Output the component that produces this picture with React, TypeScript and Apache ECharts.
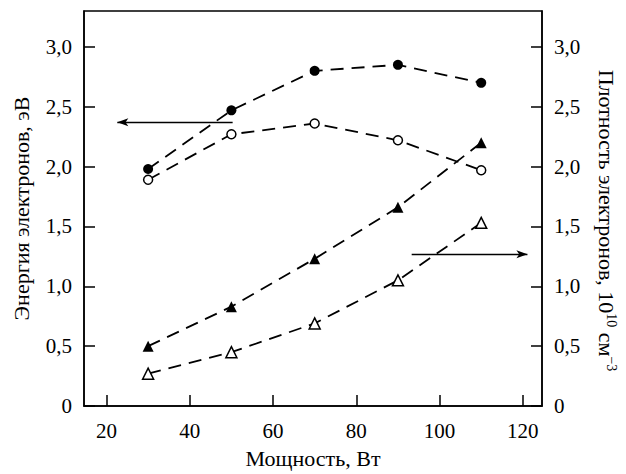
import React, { useEffect, useRef } from "react";
import * as echarts from "echarts";

const power = [30, 50, 70, 90, 110];
const energyFilled = [1.98, 2.47, 2.8, 2.85, 2.7];
const energyOpen = [1.89, 2.27, 2.36, 2.22, 1.97];
const densityFilled = [0.5, 0.83, 1.23, 1.66, 2.2];
const densityOpen = [0.27, 0.45, 0.69, 1.05, 1.53];
const xTicks = [20, 40, 60, 80, 100, 120];
const yTicks = [0, 0.5, 1.0, 1.5, 2.0, 2.5, 3.0];
const energyArrow = [
  [50.3, 2.37],
  [22.6, 2.37],
];
const densityArrow = [
  [93.3, 1.267],
  [121.1, 1.267],
];

const FONT = "Liberation Serif";
const BLACK = "#000";
const TICK_FS = 21;

const fmt = (v: number) => (v === 0 ? "0" : v.toFixed(1).replace(".", ","));

export default function App() {
  const ref = useRef<HTMLDivElement>(null);
  useEffect(() => {
    document.body.style.margin = "0";
    if (!ref.current) return;
    const chart = echarts.init(ref.current, null, { renderer: "svg" });
    const pts = (ys: number[]) => power.map((x, i) => [x, ys[i]]);
    const lineStyle = { color: BLACK, width: 1.8, type: [13, 8] as any };
    const yAxisCommon = (pos: "left" | "right") => ({
      type: "value" as const,
      position: pos,
      min: 0,
      max: 3.3,
      splitLine: { show: false },
      axisLine: { show: true, lineStyle: { color: BLACK, width: 1.5 } },
      axisTick: {
        show: true,
        inside: true,
        length: 11,
        lineStyle: { color: BLACK, width: 1.5 },
        customValues: yTicks,
      },
      axisLabel: {
        color: BLACK,
        fontFamily: FONT,
        fontSize: TICK_FS,
        margin: 12,
        customValues: yTicks,
        formatter: (v: number) => fmt(v),
      },
      nameLocation: "middle" as const,
      nameTextStyle: { color: BLACK, fontFamily: FONT, fontSize: 22 },
    });
    chart.setOption({
      animation: false,
      backgroundColor: "#fff",
      textStyle: { fontFamily: FONT, color: BLACK },
      grid: {
        left: 84,
        right: 77,
        top: 11,
        bottom: 62,
        show: true,
        borderColor: BLACK,
        borderWidth: 1.5,
        backgroundColor: "transparent",
      },
      xAxis: {
        type: "value",
        min: 14.6,
        max: 124.6,
        splitLine: { show: false },
        axisLine: { show: true, lineStyle: { color: BLACK, width: 1.5 } },
        axisTick: {
          show: true,
          inside: true,
          length: 11,
          lineStyle: { color: BLACK, width: 1.5 },
          customValues: xTicks,
        },
        axisLabel: {
          color: BLACK,
          fontFamily: FONT,
          fontSize: TICK_FS,
          margin: 14,
          customValues: xTicks,
        },
        name: "Мощность, Вт",
        nameLocation: "middle",
        nameGap: 41,
        nameTextStyle: { color: BLACK, fontFamily: FONT, fontSize: 22 },
      },
      yAxis: [
        {
          ...yAxisCommon("left"),
          name: "Энергия электронов, эВ",
          nameRotate: 90,
          nameGap: 52,
        },
        {
          ...yAxisCommon("right"),
          name: "Плотность электронов, 10{sup|10} см{sup|−3}",
          nameRotate: -90,
          nameGap: 52,
          nameTextStyle: {
            color: BLACK,
            fontFamily: FONT,
            fontSize: 22,
            padding: [0, 0, 0, 24],
            rich: {
              sup: {
                fontFamily: FONT,
                fontSize: 14,
                color: BLACK,
                verticalAlign: "top",
                padding: [0, 0, 10, 0],
              },
            },
          },
        },
      ],
      series: [
        {
          type: "line",
          yAxisIndex: 0,
          data: pts(energyFilled),
          symbol: "circle",
          symbolSize: 10,
          itemStyle: { color: BLACK },
          lineStyle,
          z: 3,
          markLine: {
            silent: true,
            symbol: ["none", "arrow"],
            symbolSize: [6, 11],
            label: { show: false },
            lineStyle: { color: BLACK, width: 1.3, type: "solid" },
            data: [
              [
                { coord: energyArrow[0] },
                { coord: energyArrow[1] },
              ],
            ],
          },
        },
        {
          type: "line",
          yAxisIndex: 0,
          data: pts(energyOpen),
          symbol: "circle",
          symbolSize: 9,
          itemStyle: { color: "#fff", borderColor: BLACK, borderWidth: 1.5 },
          lineStyle,
          z: 3,
        },
        {
          type: "line",
          yAxisIndex: 1,
          data: pts(densityFilled),
          symbol: "triangle",
          symbolSize: 11,
          itemStyle: { color: BLACK },
          lineStyle,
          z: 3,
          markLine: {
            silent: true,
            symbol: ["none", "arrow"],
            symbolSize: [6, 11],
            label: { show: false },
            lineStyle: { color: BLACK, width: 1.3, type: "solid" },
            data: [
              [
                { coord: densityArrow[0] },
                { coord: densityArrow[1] },
              ],
            ],
          },
        },
        {
          type: "line",
          yAxisIndex: 1,
          data: pts(densityOpen),
          symbol: "triangle",
          symbolSize: 11,
          itemStyle: { color: "#fff", borderColor: BLACK, borderWidth: 1.5 },
          lineStyle,
          z: 3,
        },
      ],
    });
    return () => chart.dispose();
  }, []);
  return <div ref={ref} style={{ width: 626, height: 474 }} />;
}
